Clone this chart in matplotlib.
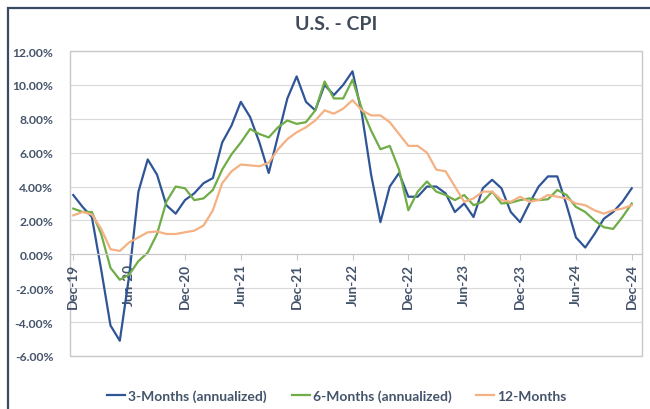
import numpy as np
import matplotlib.pyplot as plt
from matplotlib.patches import Rectangle

# monthly CPI rates (%), Dec-19 .. Dec-24
three_month = [3.5, 2.8, 2.2, -0.9, -4.2, -5.1, -1.3, 3.7, 5.6, 4.7, 2.9, 2.4,
               3.2, 3.6, 4.2, 4.5, 6.6, 7.6, 9.0, 8.1, 6.6, 4.8, 7.0, 9.2,
               10.5, 9.0, 8.5, 10.0, 9.4, 10.0, 10.8, 8.3, 4.7, 1.9, 4.0, 4.8,
               3.4, 3.4, 4.0, 4.0, 3.6, 2.5, 3.0, 2.2, 3.9, 4.4, 3.9, 2.5,
               1.9, 3.0, 4.0, 4.6, 4.6, 2.9, 1.0, 0.4, 1.2, 2.1, 2.5, 3.1, 3.9]
six_month = [2.7, 2.5, 2.5, 1.2, -0.8, -1.5, -1.2, -0.4, 0.1, 1.2, 3.1, 4.0,
             3.9, 3.2, 3.3, 3.8, 5.0, 5.9, 6.6, 7.4, 7.1, 6.9, 7.5, 7.9,
             7.7, 7.8, 8.5, 10.2, 9.2, 9.2, 10.3, 8.6, 7.3, 6.2, 6.4, 5.0,
             2.6, 3.7, 4.3, 3.7, 3.5, 3.2, 3.5, 2.9, 3.1, 3.7, 3.0, 3.05,
             3.2, 3.3, 3.2, 3.25, 3.8, 3.5, 2.8, 2.5, 2.0, 1.6, 1.5, 2.2, 3.0]
twelve_month = [2.3, 2.5, 2.35, 1.5, 0.3, 0.2, 0.7, 1.0, 1.3, 1.35, 1.2, 1.2,
                1.3, 1.4, 1.7, 2.6, 4.2, 4.9, 5.3, 5.25, 5.2, 5.4, 6.2, 6.8,
                7.2, 7.5, 7.9, 8.5, 8.3, 8.6, 9.1, 8.5, 8.2, 8.2, 7.8, 7.1,
                6.4, 6.4, 6.0, 5.0, 4.9, 4.0, 3.1, 3.3, 3.7, 3.7, 3.2, 3.1,
                3.4, 3.1, 3.2, 3.5, 3.4, 3.3, 3.0, 2.9, 2.6, 2.4, 2.6, 2.7, 2.9]
tick_labels = ['Dec-19', 'Jun-20', 'Dec-20', 'Jun-21', 'Dec-21', 'Jun-22',
               'Dec-22', 'Jun-23', 'Dec-23', 'Jun-24', 'Dec-24']

text_col = '#44546A'
grid_col = '#D9D9D9'

plt.rcParams['font.family'] = ['Lato', 'DejaVu Sans']

fig = plt.figure(figsize=(6.5, 4.1), dpi=100)
# chart border
fig.patches.append(Rectangle((8 / 650, -0.05), 1.0, 1 - 9 / 410 + 0.05,
                             transform=fig.transFigure, fill=False,
                             edgecolor='#3B4A63', linewidth=1.6))

ax = fig.add_axes([70 / 650, 1 - 357 / 410, 572 / 650, 305 / 410])
x = np.arange(len(three_month))

ax.plot(x, three_month, color='#2F5597', lw=1.6, label='3-Months (annualized)')
ax.plot(x, six_month, color='#70AD47', lw=1.6, label='6-Months (annualized)')
ax.plot(x, twelve_month, color='#F4B183', lw=1.6, label='12-Months')

ax.set_xlim(-0.35, 61.1)
ax.set_ylim(-6, 12)
yt = np.arange(-6, 13, 2)
ax.set_yticks(yt)
ax.set_yticklabels([f'{v:.2f}%' for v in yt], color=text_col,
                   fontsize=8.7, fontweight='bold')
ax.tick_params(axis='y', length=0, pad=12)
for v in yt:
    if v != 0:
        ax.axhline(v, color=grid_col, lw=0.8, zorder=0)

for s in ['top', 'left', 'right']:
    ax.spines[s].set_visible(False)
ax.spines['bottom'].set_position(('data', 0))
ax.spines['bottom'].set_color('#C8C8C8')
ax.spines['bottom'].set_linewidth(0.9)
ax.set_xticks(np.arange(0, 61, 6))
ax.set_xticklabels(tick_labels, rotation=90, color=text_col,
                   fontsize=9.8, fontweight='bold', va='top')
ax.tick_params(axis='x', length=4, color='#C8C8C8', pad=2)

ax.add_patch(Rectangle((0, 0), 1, 1, transform=ax.transAxes, fill=False,
                       edgecolor='#C8C8C8', lw=1.0, clip_on=False))

fig.text(336 / 650, 1 - 25 / 410, 'U.S. - CPI', ha='center', va='center',
         fontsize=14, fontweight='bold', color='#404A58')

fig.legend(loc='center', bbox_to_anchor=(337 / 650, 1 - 397 / 410), ncol=3,
           frameon=False, handlelength=1.3, columnspacing=1.8,
           handletextpad=0.2, prop={'size': 10, 'weight': 'bold'},
           labelcolor=text_col)

fig.savefig('out.png', dpi=100)
